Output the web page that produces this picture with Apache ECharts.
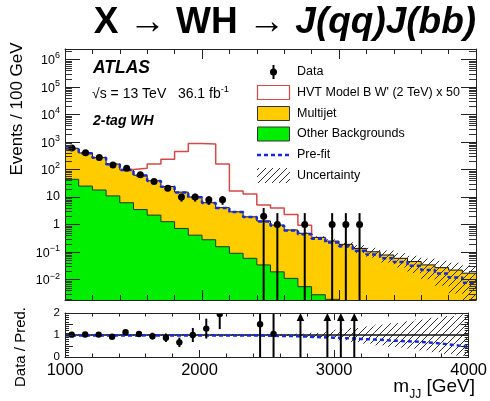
<!DOCTYPE html>
<html>
<head>
<meta charset="utf-8">
<script src="https://cdn.jsdelivr.net/npm/echarts@6.0.0/dist/echarts.min.js"></script>
<style>
  html, body { margin: 0; padding: 0; background: #fff; }
  #chart { width: 490px; height: 401px; }
</style>
</head>
<body>
<div id="chart"></div>
<script>
// m_JJ spectrum, 2-tag WH category: 30 bins of 100 GeV between 1 and 4 TeV
const binLow = [1000, 1100, 1200, 1300, 1400, 1500, 1600, 1700, 1800, 1900,
                2000, 2100, 2200, 2300, 2400, 2500, 2600, 2700, 2800, 2900,
                3000, 3100, 3200, 3300, 3400, 3500, 3600, 3700, 3800, 3900];
const binWidth = 100;

// Observed events per bin and their error bars
const dataCounts  = [600, 410, 275, 145, 110, 65, 37, 21, 10, 10, 8, 8, 0, 0, 2, 1, 0, 1, 0, 1, 1, 1, 0, 0, 0, 0, 0, 0, 0, 0];
const dataErrUp   = [24.5, 20.2, 16.6, 12, 10.5, 8.1, 6.1, 4.6, 3.2, 3.2, 2.8, 2.8, 0, 0, 2.0, 1.6, 0, 1.6, 0, 1.6, 1.6, 1.6, 0, 0, 0, 0, 0, 0, 0, 0];
const dataErrDown = [24.5, 20.2, 16.6, 12, 10.5, 8.1, 6.1, 4.6, 3.2, 3.2, 2.8, 2.8, 0, 0, 2, 1, 0, 1, 0, 1, 1, 1, 0, 0, 0, 0, 0, 0, 0, 0];

// Post-fit backgrounds
const multijet  = [546, 375, 252, 147, 91.8, 58.5, 36.8, 22.73, 14.28, 9.59,
                   5.92, 3.944, 2.81, 1.841, 1.306, 0.931, 0.619, 0.4745, 0.3372, 0.2481,
                   0.19, 0.135, 0.102, 0.078, 0.059, 0.045, 0.034, 0.027, 0.022, 0.017];
const otherBkg  = [44, 25, 18, 11, 6.2, 3.5, 2.2, 1.27, 0.72, 0.41,
                   0.28, 0.156, 0.09, 0.059, 0.034, 0.019, 0.011, 0.0055, 0.0028, 0.0019,
                   0, 0, 0, 0, 0, 0, 0, 0, 0, 0];

// HVT Model B W' (2 TeV) signal, scaled by 50, stacked on the backgrounds
const signalX50 = [0, 0, 0, 0, 3, 50, 120, 211, 433, 880,
                   844, 155, 13.7, 11, 3.8, 3.0, 1.7, 0.47, 0, 0,
                   0, 0, 0, 0, 0, 0, 0, 0, 0, 0];

// Pre-fit total background
const preFit = [578, 392, 265, 155, 96, 61, 38.2, 23.5, 14.7, 9.8,
                6.08, 4.02, 2.84, 1.86, 1.30, 0.91, 0.60, 0.446, 0.306, 0.22,
                0.162, 0.111, 0.081, 0.059, 0.043, 0.0315, 0.0224, 0.0165, 0.0119, 0.0077];

// Relative background uncertainty per bin
const uncRel = [0.03, 0.03, 0.03, 0.03, 0.03, 0.03, 0.03, 0.03, 0.03, 0.03,
                0.03, 0.03, 0.03, 0.03, 0.03, 0.03, 0.04, 0.06, 0.10, 0.16,
                0.24, 0.32, 0.39, 0.47, 0.54, 0.62, 0.70, 0.78, 0.86, 0.94];

// Axis ticks and labels
const xTickValues = [1000, 2000, 3000, 4000];
const xTickLabels = ['1000', '2000', '3000', '4000'];
const yLogTicks  = [0.01, 0.1, 1, 10, 100, 1e3, 1e4, 1e5, 1e6];
const yLogLabels = ['10^\u22122', '10^\u22121', '1', '10', '10^2', '10^3', '10^4', '10^5', '10^6'];
const ratioTicks  = [0, 0.5, 1, 1.5, 2];
const ratioLabels = ['0', '0.5', '1', '1.5', '2'];

const FONT = '"Liberation Sans", Arial, Helvetica, sans-serif';
const yMin = 0.0018, yMax = 2.41e6;
const axisColor = '#222';

const total = multijet.map((v, i) => v + otherBkg[i]);

// minor log ticks: 2..9 x 10^k
const yMinorTicks = [];
for (let k = -3; k <= 6; k++) {
  for (let m = 2; m <= 9; m++) {
    const v = m * Math.pow(10, k);
    if (v > yMin && v < yMax) yMinorTicks.push(v);
  }
}

// step-histogram points for a line series with step:'end'
function stepData(values) {
  const pts = [];
  for (let i = 0; i < values.length; i++) {
    const v = values[i];
    if (v > 0) {
      pts.push([binLow[i], v]);
      const next = values[i + 1];
      if (!(next > 0)) {
        pts.push([binLow[i] + binWidth, v]);
        pts.push([binLow[i] + binWidth, null]);
      }
    }
  }
  return pts;
}

// signal outline: stack + signal, dropping back onto the stack after the last signal bin
function signalOutline() {
  const pts = [];
  let last = -1;
  for (let i = 0; i < binLow.length; i++) {
    if (signalX50[i] > 0) { pts.push([binLow[i], total[i] + signalX50[i]]); last = i; }
  }
  if (last >= 0 && last + 1 < binLow.length) pts.push([binLow[last] + binWidth, total[last + 1]]);
  return pts;
}

function makeHatch() {
  const s = 7;
  const c = document.createElement('canvas');
  c.width = s; c.height = s;
  const g = c.getContext('2d');
  g.strokeStyle = '#303030';
  g.lineWidth = 1;
  g.beginPath();
  for (const k of [-s, 0, s]) { g.moveTo(k, s); g.lineTo(k + s, 0); }
  g.stroke();
  return c;
}
const hatchCanvas = makeHatch();
const hatchFill = { type: 'pattern', image: hatchCanvas, repeat: 'repeat' };

function logLabel(v) {
  const i = yLogTicks.findIndex(t => Math.abs(Math.log10(t) - Math.log10(v)) < 1e-6);
  if (i < 0) return '';
  const parts = yLogLabels[i].split('^');
  return parts.length > 1 ? '{b|' + parts[0] + '}{s|' + parts[1] + '}' : '{b|' + parts[0] + '}';
}

function xAxisFor(gridIndex, position, withLabels, major, minor) {
  return {
    type: 'value', gridIndex, position, min: 1000, max: 4000, interval: 1000, z: 10,
    axisLine: { show: true, onZero: false, lineStyle: { color: axisColor, width: 1 } },
    axisTick: { show: true, inside: true, length: major, lineStyle: { color: axisColor } },
    minorTick: { show: true, splitNumber: 5, length: minor, lineStyle: { color: axisColor } },
    splitLine: { show: false }, minorSplitLine: { show: false },
    axisLabel: withLabels ? {
      show: true, margin: 5, fontFamily: FONT, fontSize: 16.5, color: '#000',
      showMinLabel: true, showMaxLabel: true,
      formatter: v => { const i = xTickValues.indexOf(v); return i < 0 ? '' : xTickLabels[i]; }
    } : { show: false }
  };
}

function logYAxis(position, withLabels) {
  return {
    type: 'log', logBase: 10, gridIndex: 0, position, min: yMin, max: yMax, z: 10,
    axisLine: { show: true, onZero: false, lineStyle: { color: axisColor, width: 1 } },
    axisTick: { show: true, inside: true, length: 15, customValues: yLogTicks, lineStyle: { color: axisColor } },
    splitLine: { show: false },
    axisLabel: withLabels ? {
      show: true, customValues: yLogTicks, margin: 5, color: '#000', formatter: logLabel,
      rich: {
        b: { fontFamily: FONT, fontSize: 12.5, color: '#000', verticalAlign: 'bottom' },
        s: { fontFamily: FONT, fontSize: 9, color: '#000', verticalAlign: 'bottom', padding: [0, 0, 7, 0] }
      }
    } : { show: false }
  };
}

function ratioYAxis(position, withLabels) {
  return {
    type: 'value', gridIndex: 1, position, min: 0, max: 2, interval: 0.5, z: 10,
    axisLine: { show: true, onZero: false, lineStyle: { color: axisColor, width: 1 } },
    axisTick: { show: true, inside: true, length: 8, lineStyle: { color: axisColor } },
    minorTick: { show: true, splitNumber: 5, length: 4, lineStyle: { color: axisColor } },
    splitLine: { show: false }, minorSplitLine: { show: false },
    axisLabel: withLabels ? {
      show: true, margin: 5, fontFamily: FONT, fontSize: 11.5, color: '#000',
      showMinLabel: true, showMaxLabel: true,
      formatter: v => { const i = ratioTicks.findIndex(t => Math.abs(t - v) < 1e-9); return i < 0 ? '' : ratioLabels[i]; }
    } : { show: false }
  };
}

const stepLine = (extra) => Object.assign({
  type: 'line', step: 'end', symbol: 'none', showSymbol: false, connectNulls: false,
  animation: false, silent: true
}, extra);

const binItems = (vals) => binLow.map((x, i) => [x + binWidth / 2, vals[i] > 0 ? vals[i] : 1]);

const option = {
  animation: false,
  backgroundColor: '#fff',
  grid: [
    { left: 65, top: 49, width: 411, height: 251 },
    { left: 65, top: 313, width: 411, height: 44 }
  ],
  xAxis: [
    xAxisFor(0, 'bottom', false, 10, 5),
    xAxisFor(0, 'top', false, 10, 5),
    xAxisFor(1, 'bottom', true, 7, 3.5),
    xAxisFor(1, 'top', false, 7, 3.5)
  ],
  yAxis: [
    logYAxis('left', true),
    logYAxis('right', false),
    ratioYAxis('left', true),
    ratioYAxis('right', false)
  ],
  series: [
    // multijet on top of other backgrounds (filled to the axis floor, then covered by green)
    stepLine({
      name: 'Multijet', xAxisIndex: 0, yAxisIndex: 0, z: 2,
      data: stepData(total),
      lineStyle: { color: '#111', width: 1 },
      areaStyle: { color: '#ffcc00', opacity: 1, origin: 'start' }
    }),
    stepLine({
      name: 'Other Backgrounds', xAxisIndex: 0, yAxisIndex: 0, z: 3,
      data: stepData(otherBkg),
      lineStyle: { color: '#1e3a1e', width: 1 },
      areaStyle: { color: '#00ee00', opacity: 1, origin: 'start' }
    }),
    // uncertainty band on the total background
    {
      type: 'custom', name: 'Uncertainty', xAxisIndex: 0, yAxisIndex: 0, z: 4, clip: true, silent: true,
      data: binItems(total),
      encode: { x: 0, y: 1 },
      renderItem(params, api) {
        const i = params.dataIndex;
        const hi = total[i] * (1 + uncRel[i]);
        const loV = total[i] * (1 - uncRel[i]);
        const p1 = api.coord([binLow[i], hi]);
        const p2 = api.coord([binLow[i] + binWidth, loV > yMin ? loV : yMin]);
        return { type: 'rect', shape: { x: p1[0], y: p1[1], width: p2[0] - p1[0], height: p2[1] - p1[1] },
                 style: { fill: hatchFill, stroke: null } };
      }
    },
    stepLine({
      name: 'HVT', xAxisIndex: 0, yAxisIndex: 0, z: 5,
      data: signalOutline(),
      lineStyle: { color: '#d84848', width: 1.5 }
    }),
    stepLine({
      name: 'Pre-fit', xAxisIndex: 0, yAxisIndex: 0, z: 6,
      data: stepData(preFit),
      lineStyle: { color: '#1428e6', width: 2.5, type: [4, 3] }
    }),
    {
      type: 'custom', name: 'Data', xAxisIndex: 0, yAxisIndex: 0, z: 10, clip: true, silent: true,
      data: binItems(dataCounts),
      encode: { x: 0, y: 1 },
      renderItem(params, api) {
        const i = params.dataIndex;
        const n = dataCounts[i];
        if (!(n > 0)) return { type: 'group', children: [] };
        const xc = binLow[i] + binWidth / 2;
        const lowV = n - dataErrDown[i];
        const pt = api.coord([xc, n + dataErrUp[i]]);
        const pb = api.coord([xc, lowV > yMin ? lowV : yMin]);
        const p = api.coord([xc, n]);
        return { type: 'group', children: [
          { type: 'line', shape: { x1: pt[0], y1: pt[1], x2: pb[0], y2: pb[1] }, style: { stroke: '#000', lineWidth: 2 } },
          { type: 'circle', shape: { cx: p[0], cy: p[1], r: 3.5 }, style: { fill: '#000' } }
        ] };
      }
    },

    // ---- ratio panel ----
    {
      type: 'custom', name: 'Uncertainty ratio', xAxisIndex: 2, yAxisIndex: 2, z: 3, clip: true, silent: true,
      data: binLow.map((x, i) => [x + binWidth / 2, 1]),
      encode: { x: 0, y: 1 },
      renderItem(params, api) {
        const i = params.dataIndex;
        const p1 = api.coord([binLow[i], Math.min(2, 1 + uncRel[i])]);
        const p2 = api.coord([binLow[i] + binWidth, Math.max(0, 1 - uncRel[i])]);
        return { type: 'rect', shape: { x: p1[0], y: p1[1], width: p2[0] - p1[0], height: p2[1] - p1[1] },
                 style: { fill: hatchFill, stroke: null } };
      }
    },
    {
      type: 'line', xAxisIndex: 2, yAxisIndex: 2, z: 4, symbol: 'none', silent: true, animation: false,
      data: [[1000, 1], [4000, 1]],
      lineStyle: { color: '#111', width: 1.5 }
    },
    stepLine({
      name: 'Pre-fit ratio', xAxisIndex: 2, yAxisIndex: 2, z: 5,
      data: stepData(preFit.map((v, i) => v / total[i])),
      lineStyle: { color: '#1428e6', width: 2.5, type: [4, 3] }
    }),
    {
      type: 'custom', name: 'Data ratio', xAxisIndex: 2, yAxisIndex: 2, z: 10, clip: true, silent: true,
      data: binLow.map((x, i) => [x + binWidth / 2, 1]),
      encode: { x: 0, y: 1 },
      renderItem(params, api) {
        const i = params.dataIndex;
        const n = dataCounts[i];
        if (!(n > 0)) return { type: 'group', children: [] };
        const t = total[i];
        const xc = binLow[i] + binWidth / 2;
        const r = n / t;
        const up = Math.min(2, (n + dataErrUp[i]) / t);
        const dn = Math.max(0, (n - dataErrDown[i]) / t);
        if (r > 2) {
          const pb = api.coord([xc, dn]);
          const pt = api.coord([xc, 2]);
          return { type: 'group', children: [
            { type: 'line', shape: { x1: pb[0], y1: pb[1], x2: pt[0], y2: pt[1] + 5 }, style: { stroke: '#000', lineWidth: 2 } },
            { type: 'polygon', shape: { points: [[pt[0], pt[1]], [pt[0] - 3.8, pt[1] + 8], [pt[0] + 3.8, pt[1] + 8]] }, style: { fill: '#000' } }
          ] };
        }
        const pt = api.coord([xc, up]);
        const pb = api.coord([xc, dn]);
        const p = api.coord([xc, r]);
        return { type: 'group', children: [
          { type: 'line', shape: { x1: pt[0], y1: pt[1], x2: pb[0], y2: pb[1] }, style: { stroke: '#000', lineWidth: 2 } },
          { type: 'circle', shape: { cx: p[0], cy: p[1], r: 3.2 }, style: { fill: '#000' } }
        ] };
      }
    }
  ],
  graphic: [
    // title
    { type: 'text', x: 285, y: 23, silent: true,
      style: { text: '{u|X \u2192 WH \u2192 }{i|J(qq)J(bb)}', align: 'center', verticalAlign: 'middle',
        rich: {
          u: { fontFamily: FONT, fontSize: 37, fontWeight: 'bold', fill: '#000' },
          i: { fontFamily: FONT, fontSize: 37, fontWeight: 'bold', fontStyle: 'italic', fill: '#000' }
        } } },
    // labels inside the frame
    { type: 'text', x: 93, y: 68, silent: true,
      style: { text: 'ATLAS', fontFamily: FONT, fontSize: 17.5, fontWeight: 'bold', fontStyle: 'italic', fill: '#000', align: 'left', verticalAlign: 'middle' } },
    { type: 'text', x: 92, y: 93, silent: true,
      style: { text: '{b|\u221As = 13 TeV   36.1 fb}{s|-1}', align: 'left', verticalAlign: 'middle',
        rich: {
          b: { fontFamily: FONT, fontSize: 14, fill: '#000', verticalAlign: 'bottom' },
          s: { fontFamily: FONT, fontSize: 9.5, fill: '#000', verticalAlign: 'bottom', padding: [0, 0, 7, 0] }
        } } },
    { type: 'text', x: 93, y: 121, silent: true,
      style: { text: '2-tag WH', fontFamily: FONT, fontSize: 14, fontWeight: 'bold', fontStyle: 'italic', fill: '#000', align: 'left', verticalAlign: 'middle' } },

    // legend
    { type: 'line', silent: true, shape: { x1: 273.5, y1: 65, x2: 273.5, y2: 79 }, style: { stroke: '#000', lineWidth: 2 } },
    { type: 'circle', silent: true, shape: { cx: 273.5, cy: 72, r: 3.5 }, style: { fill: '#000' } },
    { type: 'rect', silent: true, shape: { x: 257.5, y: 85.5, width: 32, height: 14 }, style: { fill: '#fff', stroke: '#d84848', lineWidth: 1.2 } },
    { type: 'rect', silent: true, shape: { x: 257.5, y: 106.5, width: 32, height: 14 }, style: { fill: '#ffcc00', stroke: '#333', lineWidth: 1 } },
    { type: 'rect', silent: true, shape: { x: 257.5, y: 127, width: 32, height: 14 }, style: { fill: '#00ee00', stroke: '#333', lineWidth: 1 } },
    { type: 'line', silent: true, shape: { x1: 257, y1: 155, x2: 290, y2: 155 }, style: { stroke: '#1428e6', lineWidth: 2.5, lineDash: [4, 3] } },
    { type: 'rect', silent: true, shape: { x: 257, y: 168, width: 33, height: 15 }, style: { fill: hatchFill, stroke: null } },
    { type: 'text', x: 297, y: 72, silent: true, style: { text: 'Data', fontFamily: FONT, fontSize: 12.5, fill: '#000', align: 'left', verticalAlign: 'middle' } },
    { type: 'text', x: 297, y: 92.5, silent: true, style: { text: "HVT Model B W' (2 TeV) x 50", fontFamily: FONT, fontSize: 12.5, fill: '#000', align: 'left', verticalAlign: 'middle' } },
    { type: 'text', x: 297, y: 113.5, silent: true, style: { text: 'Multijet', fontFamily: FONT, fontSize: 12.5, fill: '#000', align: 'left', verticalAlign: 'middle' } },
    { type: 'text', x: 297, y: 134, silent: true, style: { text: 'Other Backgrounds', fontFamily: FONT, fontSize: 12.5, fill: '#000', align: 'left', verticalAlign: 'middle' } },
    { type: 'text', x: 297, y: 155, silent: true, style: { text: 'Pre-fit', fontFamily: FONT, fontSize: 12.5, fill: '#000', align: 'left', verticalAlign: 'middle' } },
    { type: 'text', x: 297, y: 175.5, silent: true, style: { text: 'Uncertainty', fontFamily: FONT, fontSize: 12.5, fill: '#000', align: 'left', verticalAlign: 'middle' } },

    // axis titles
    { type: 'text', x: 17, y: 109, rotation: Math.PI / 2, silent: true,
      style: { text: 'Events / 100 GeV', fontFamily: FONT, fontSize: 17, fill: '#000', align: 'center', verticalAlign: 'middle' } },
    { type: 'text', x: 21, y: 347, rotation: Math.PI / 2, silent: true,
      style: { text: 'Data / Pred.', fontFamily: FONT, fontSize: 15, fill: '#000', align: 'center', verticalAlign: 'middle' } },
    { type: 'text', x: 475, y: 389, silent: true,
      style: { text: '{b|m}{sub|JJ}{b| [GeV]}', align: 'right', verticalAlign: 'middle',
        rich: {
          b: { fontFamily: FONT, fontSize: 19, fill: '#000', verticalAlign: 'bottom', padding: [0, 0, 5, 0] },
          sub: { fontFamily: FONT, fontSize: 12, fill: '#000', verticalAlign: 'bottom' }
        } } }
  ]
};

const chart = echarts.init(document.getElementById('chart'), null, { renderer: 'canvas' });
chart.setOption(option);

// minor log ticks (2..9 per decade) on both sides of the main frame, placed with the y scale
const minorTickGraphics = [];
yMinorTicks.forEach(v => {
  const pl = chart.convertToPixel({ xAxisIndex: 0, yAxisIndex: 0 }, [1000, v]);
  const pr = chart.convertToPixel({ xAxisIndex: 0, yAxisIndex: 0 }, [4000, v]);
  if (!pl || !pr || !isFinite(pl[1])) return;
  const y = Math.round(pl[1]) + 0.5;
  minorTickGraphics.push(
    { type: 'line', silent: true, z: 100, shape: { x1: pl[0], y1: y, x2: pl[0] + 7, y2: y }, style: { stroke: '#333', lineWidth: 1 } },
    { type: 'line', silent: true, z: 100, shape: { x1: pr[0] - 7, y1: y, x2: pr[0], y2: y }, style: { stroke: '#333', lineWidth: 1 } }
  );
});
chart.setOption({ graphic: option.graphic.concat(minorTickGraphics) });
</script>
</body>
</html>
